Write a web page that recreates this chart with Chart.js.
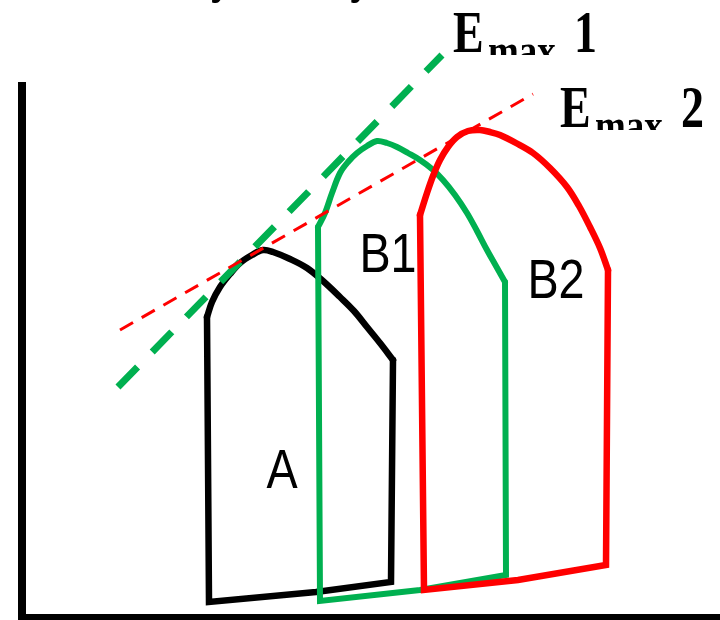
<!DOCTYPE html>
<html>
<head>
<meta charset="utf-8">
<script src="https://cdn.jsdelivr.net/npm/chart.js@4.4.1/dist/chart.umd.min.js"></script>
<style>
    html, body { margin: 0; padding: 0; background: #fff; }
    #wrap { width: 720px; height: 620px; position: relative; }
</style>
</head>
<body>
<div id="wrap"><canvas id="pvChart"></canvas></div>
<script>
// Петли давление-объём (x - объём, y - давление, условные единицы от осей)
// Каждая петля: изогнутая часть (выброс) + прямые участки
const curveA = [
    [185, 301], [190, 316], [198, 331], [208, 344], [218, 355], [230, 363],
    [241, 368], [251, 366], [268, 359], [285, 350], [301, 337], [318, 321],
    [332, 307], [345, 291], [358, 275], [371, 258]
];
const edgesA = [[371, 258], [369, 36], [294, 26], [187, 16], [185, 301]];

const curveB1 = [
    [296, 391], [303, 405], [310, 425], [318, 445], [326, 456], [335, 465],
    [345, 472], [355, 477], [365, 475], [375, 471], [386, 465], [398, 458],
    [410, 449], [421, 438], [433, 423], [445, 405], [455, 387], [465, 368],
    [474, 352], [483, 336]
];
const edgesB1 = [[483, 336], [484, 43], [398, 28], [298, 17], [296, 391]];

const curveB2 = [
    [398, 403], [405, 425], [411, 442], [418, 458], [426, 471], [435, 481],
    [446, 487], [458, 488], [468, 486], [478, 483], [494, 475], [511, 465],
    [528, 450], [545, 431], [557, 412], [568, 391], [578, 370], [586, 348]
];
const edgesB2 = [[586, 348], [584, 53], [496, 38], [402, 28], [398, 403]];

// Линии Emax (касательные)
const emax1 = [[96, 231], [420, 563]];
const emax2 = [[98, 288], [511, 524]];

// Оси
const axisLine = [[0, 536], [0, 0], [700, 0]];

// Подписи петель и линий
const loopLabels = [
    { text: "A", x: 260, y: 145 },
    { text: "B1", x: 366, y: 361 },
    { text: "B2", x: 534, y: 335 }
];
const emaxLabels = [
    { num: "1", x: 431, y: 566 },
    { num: "2", x: 538, y: 491 }
];
const titleText = "Contractility theory";
const titleAt = { x: -41, y: 628 };

const toPoints = arr => arr.map(([x, y]) => ({ x, y }));

function lineSet(data, color, width, order, opts = {}) {
    return {
        data: toPoints(data),
        showLine: true,
        borderColor: color,
        borderWidth: width,
        borderDash: opts.dash || [],
        borderJoinStyle: "miter",
        borderCapStyle: opts.cap || "butt",
        pointRadius: 0,
        pointHoverRadius: 0,
        tension: opts.tension || 0,
        fill: false,
        order
    };
}

// Рисуем подписи через шкалы графика
const labelsPlugin = {
    id: "pvLabels",
    afterDatasetsDraw(chart) {
        const { ctx, scales } = chart;
        const sx = v => scales.x.getPixelForValue(v);
        const sy = v => scales.y.getPixelForValue(v);

        ctx.save();
        ctx.fillStyle = "#000";
        ctx.textBaseline = "middle";
        ctx.textAlign = "center";
        ctx.font = '55px "Liberation Sans", Arial, sans-serif';
        loopLabels.forEach(l => {
            ctx.save();
            ctx.translate(sx(l.x), sy(l.y));
            ctx.scale(0.85, 1);
            ctx.fillText(l.text, 0, 0);
            ctx.restore();
        });
        ctx.restore();

        const serif = '"Liberation Serif", "Times New Roman", serif';
        emaxLabels.forEach(l => {
            const px = sx(l.x), py = sy(l.y);
            ctx.save();
            ctx.beginPath();
            ctx.rect(px - 10, py - 60, 200, 63);
            ctx.clip();
            ctx.fillStyle = "#000";
            ctx.textBaseline = "alphabetic";
            ctx.textAlign = "left";
            ctx.translate(px, py);
            ctx.scale(1, 1.28);
            ctx.font = "bold 46px " + serif;
            ctx.fillText("E", 0, 0);
            ctx.fillText(l.num, 121, 0);
            ctx.font = "bold 37px " + serif;
            ctx.fillText("max", 35, 11);
            ctx.restore();
        });

        // Обрезанный заголовок слайда сверху
        ctx.save();
        ctx.fillStyle = "#000";
        ctx.textBaseline = "alphabetic";
        ctx.textAlign = "left";
        ctx.translate(sx(titleAt.x), sy(titleAt.y));
        ctx.scale(1, 1.28);
        ctx.font = "bold 46px " + serif;
        ctx.fillText(titleText, 0, 0);
        ctx.restore();
    }
};

const curveOpts = { tension: 0.35, cap: "round" };
const edgeOpts = { cap: "round" };

const ctx = document.getElementById("pvChart").getContext("2d");
new Chart(ctx, {
    type: "scatter",
    data: {
        datasets: [
            lineSet(emax2, "#ff0000", 3, 0, { dash: [15, 10] }),
            lineSet(emax1, "#00b050", 7, 1, { dash: [28, 21] }),
            lineSet(curveB2, "#ff0000", 6.5, 2, curveOpts),
            lineSet(edgesB2, "#ff0000", 6.5, 2, edgeOpts),
            lineSet(curveB1, "#00b050", 6, 3, curveOpts),
            lineSet(edgesB1, "#00b050", 6, 3, edgeOpts),
            lineSet(curveA, "#000000", 6.5, 4, curveOpts),
            lineSet(edgesA, "#000000", 6.5, 4, edgeOpts),
            lineSet(axisLine, "#000000", 8, 5)
        ]
    },
    options: {
        responsive: true,
        maintainAspectRatio: false,
        animation: false,
        layout: { padding: 0 },
        scales: {
            x: { type: "linear", min: -22, max: 698, display: false },
            y: { type: "linear", min: -2, max: 618, display: false }
        },
        plugins: {
            legend: { display: false },
            tooltip: { enabled: false }
        },
        events: []
    },
    plugins: [labelsPlugin]
});
</script>
</body>
</html>
